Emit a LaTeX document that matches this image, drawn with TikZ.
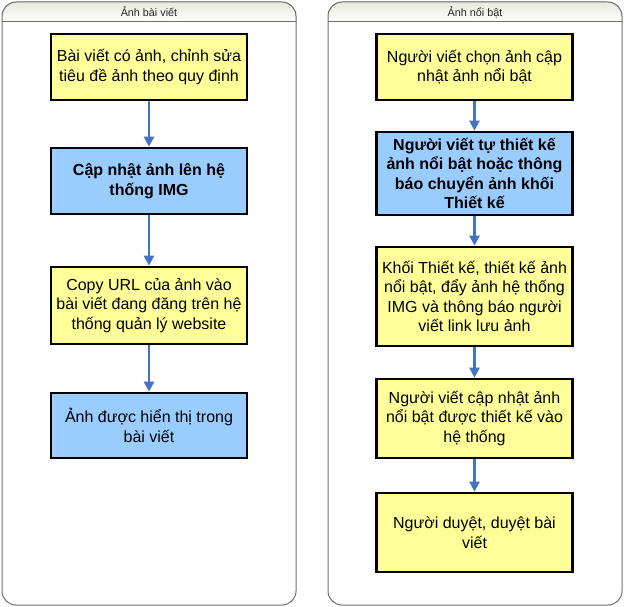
\documentclass[tikz,border=0pt]{standalone}
\usepackage{fontspec}
\setmainfont{Liberation Sans}
\usetikzlibrary{arrows.meta}
\definecolor{boxyellow}{HTML}{FFFF99}
\definecolor{boxblue}{HTML}{99CCFF}
\definecolor{arrowblue}{RGB}{68,114,196}
\definecolor{lanegray}{HTML}{6E6E6E}
\definecolor{headtop}{HTML}{E9EADC}
\tikzset{
  stepbox/.style={draw=black, line width=2.7pt, minimum width=196pt, align=center, inner sep=2pt,
    font=\fontsize{16}{19.5}\selectfont},
  ybox/.style={stepbox, fill=boxyellow},
  bbox/.style={stepbox, fill=boxblue},
  flow/.style={draw=arrowblue, line width=2.6pt, -{Triangle[length=10pt,width=10pt]}},
  lane/.style={draw=lanegray, line width=1pt, rounded corners=14pt},
  lanetitle/.style={font=\fontsize{10.8}{12}\selectfont, text=black!85},
}
\begin{document}
\begin{tikzpicture}[x=1pt,y=-1pt]
\useasboundingbox (0,0) rectangle (624,607);
% left lane
\fill[top color=headtop, bottom color=white] (2,22) [rounded corners=16pt] -- (2,2) -- (296,2) [sharp corners] -- (296,22) -- cycle;
\draw[lane] (2,2) rectangle (296,605);
\draw[lanegray, line width=1pt] (2,22) -- (296,22);
\node[lanetitle] (tl) at (149,12) {Ảnh bài viết};
% right lane
\fill[top color=headtop, bottom color=white] (328,22) [rounded corners=16pt] -- (328,2) -- (622,2) [sharp corners] -- (622,22) -- cycle;
\draw[lane] (328,2) rectangle (622,605);
\draw[lanegray, line width=1pt] (328,22) -- (622,22);
\node[lanetitle] (tr) at (475,12) {Ảnh nổi bật};
% left boxes
\node[ybox, minimum height=66pt] (l1) at (149,67) {Bài viết có ảnh, chỉnh sửa\\tiêu đề ảnh theo quy định};
\node[bbox, minimum height=66pt, font=\fontsize{16}{19.5}\selectfont\bfseries] (l2) at (149,181) {Cập nhật ảnh lên hệ\\thống IMG};
\node[ybox, minimum height=77pt] (l3) at (149,305.5) {Copy URL của ảnh vào\\bài viết đang đăng trên hệ\\thống quản lý website};
\node[bbox, minimum height=65pt] (l4) at (149,425.5) {Ảnh được hiển thị trong\\bài viết};
% right boxes
\node[ybox, minimum height=66pt] (r1) at (474.5,67) {Người viết chọn ảnh cập\\nhật ảnh nổi bật};
\node[bbox, minimum height=83pt, font=\fontsize{16}{19.5}\selectfont\bfseries] (r2) at (474.5,173.5) {Người viết tự thiết kế\\ảnh nổi bật hoặc thông\\báo chuyển ảnh khối\\Thiết kế};
\node[ybox, minimum height=99pt] (r3) at (474.5,296.5) {Khối Thiết kế, thiết kế ảnh\\nổi bật, đẩy ảnh hệ thống\\IMG và thông báo người\\viết link lưu ảnh};
\node[ybox, minimum height=79pt] (r4) at (474.5,418.5) {Người viết cập nhật ảnh\\nổi bật được thiết kế vào\\hệ thống};
\node[ybox, minimum height=79pt] (r5) at (474.5,532.5) {Người duyệt, duyệt bài\\viết};
% arrows
\draw[flow] (l1) -- (l2);
\draw[flow] (l2) -- (l3);
\draw[flow] (l3) -- (l4);
\draw[flow] (r1) -- (r2);
\draw[flow] (r2) -- (r3);
\draw[flow] (r3) -- (r4);
\draw[flow] (r4) -- (r5);
\end{tikzpicture}
\end{document}
